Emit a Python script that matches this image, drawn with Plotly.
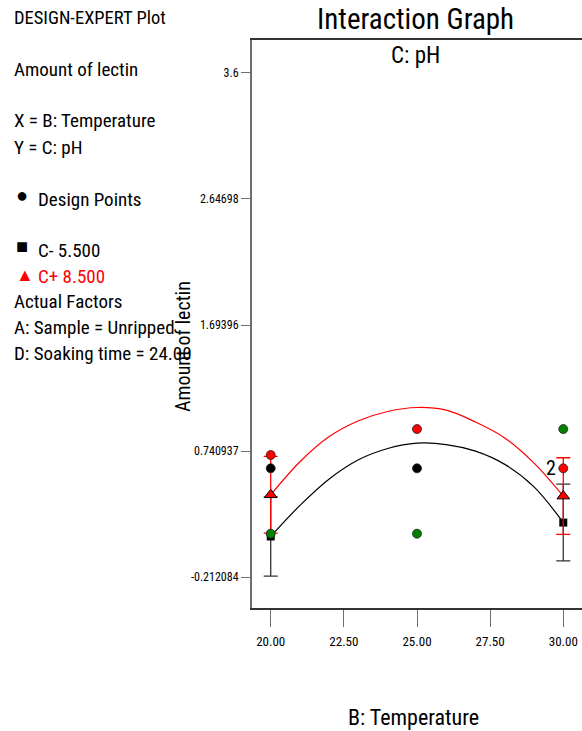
import plotly.graph_objects as go

# ---- data -------------------------------------------------------------
# Predicted response curves (Amount of lectin) across B: Temperature
temp_curve = [20, 21, 22, 23, 24, 25, 26, 27, 28, 29, 30]
lectin_c_low = [0.095, 0.33, 0.53, 0.675, 0.76, 0.80, 0.79, 0.74, 0.64, 0.47, 0.20]   # C- 5.500
lectin_c_high = [0.41, 0.66, 0.85, 0.97, 1.04, 1.07, 1.05, 0.96, 0.84, 0.65, 0.40]   # C+ 8.500

# End-point means with LSD bars
temp_ends = [20, 30]
low_ends = [0.095, 0.20]
low_err = [0.30, 0.29]
high_ends = [0.41, 0.40]
high_err = [0.29, 0.29]

# Design points
design_temp = [20, 20, 20, 25, 25, 25, 30, 30]
design_lectin = [0.711, 0.610, 0.116, 0.907, 0.610, 0.116, 0.907, 0.610]
design_color = ["red", "black", "green", "red", "black", "green", "green", "red"]

# Axis ticks
y_ticks = [3.6, 2.64698, 1.69396, 0.740937, -0.212084]
y_tick_labels = ["3.6", "2.64698", "1.69396", "0.740937", "-0.212084"]
x_ticks = [20, 22.5, 25, 27.5, 30]
x_tick_labels = ["20.00", "22.50", "25.00", "27.50", "30.00"]

# ---- figure geometry ------------------------------------------------------
W, H = 582, 731
ML, MR, MT, MB = 252, 0, 40, 123
PW, PH = W - ML - MR, H - MT - MB

FONT = "Liberation Sans Narrow, Arial Narrow, Roboto Condensed, Liberation Sans, sans-serif"
AXIS_GRAY = "#6e6e6e"


def px(xp):
    return (xp - ML) / PW


def py(yp):
    return 1 - (yp - MT) / PH


fig = go.Figure()

# model curves
fig.add_trace(go.Scatter(x=temp_curve, y=lectin_c_low, mode="lines", line=dict(color="black", width=1.2, shape="spline"),
                         showlegend=False, hoverinfo="skip"))
fig.add_trace(go.Scatter(x=temp_curve, y=lectin_c_high, mode="lines", line=dict(color="red", width=1.2, shape="spline"),
                         showlegend=False, hoverinfo="skip"))

# end points with LSD bars
fig.add_trace(go.Scatter(x=temp_ends, y=low_ends, mode="markers",
                         marker=dict(symbol="square", size=8, color="black"),
                         error_y=dict(type="data", array=low_err, color="#333333", thickness=1.3, width=7),
                         showlegend=False))
fig.add_trace(go.Scatter(x=temp_ends, y=high_ends, mode="markers",
                         marker=dict(symbol="triangle-up", size=11, color="red", line=dict(color="black", width=1)),
                         error_y=dict(type="data", array=high_err, color="red", thickness=1.3, width=7),
                         showlegend=False))

# design points
fig.add_trace(go.Scatter(x=design_temp, y=design_lectin, mode="markers",
                         marker=dict(symbol="circle", size=9, color=design_color,
                                     line=dict(color="#222222", width=0.8)),
                         showlegend=False))

fig.update_layout(
    width=W, height=H,
    margin=dict(l=ML, r=MR, t=MT, b=MB, pad=0),
    paper_bgcolor="white", plot_bgcolor="white",
    font=dict(family=FONT, color="black"),
    showlegend=False,
    xaxis=dict(range=[19.36, 30.64], tickvals=x_ticks, ticktext=x_tick_labels,
               showgrid=False, zeroline=False, showline=True, linecolor="#333333", linewidth=1.5,
               mirror=True, ticks="outside", ticklen=17, tickwidth=1, tickcolor=AXIS_GRAY,
               ticklabelstandoff=4, tickfont=dict(size=13, family=FONT)),
    yaxis=dict(range=[-0.446, 3.849], tickvals=y_ticks, ticktext=y_tick_labels,
               showgrid=False, zeroline=False, showline=True, linecolor=AXIS_GRAY, linewidth=2,
               ticks="outside", ticklen=9, tickwidth=1, tickcolor=AXIS_GRAY,
               tickfont=dict(size=12, family=FONT)),
)

ann = []


def text(s, xp, yp, size=19, color="black", xanchor="left", angle=0):
    ann.append(dict(text=s, x=px(xp), y=py(yp), xref="paper", yref="paper", showarrow=False,
                    xanchor=xanchor, yanchor="middle", textangle=angle,
                    font=dict(size=size, color=color, family=FONT)))


# header panel
text("DESIGN-EXPERT Plot", 12, 18, size=18.5)
text("Amount of lectin", 12, 69)
text("X = B: Temperature", 12, 121)
text("Y = C: pH", 12, 147)
text("●", 14, 195, size=20)
text("Design Points", 36, 199)
text("■", 14, 246, size=20)
text("C- 5.500", 36, 250)
text("▲", 14, 274, size=18, color="red")
text("C+ 8.500", 36, 276, color="red")
text("Actual Factors", 12, 302)
text("A: Sample = Unripped", 12, 327)
text("D: Soaking time = 24.00", 12, 353)

# titles
text("Interaction Graph", 415, 19, size=29, xanchor="center")
text("C: pH", 415, 56, size=23, xanchor="center")
text("B: Temperature", 413, 717, size=22, xanchor="center")
text("Amount of lectin", 183, 347, size=20, xanchor="center", angle=-90)

# replicate count next to the design point
ann.append(dict(text="2", x=30, y=0.61, xref="x", yref="y", showarrow=False, xanchor="right",
                yanchor="middle", xshift=-5, font=dict(size=20, color="black", family=FONT)))

fig.update_layout(annotations=ann)
fig.write_html("out.html")
